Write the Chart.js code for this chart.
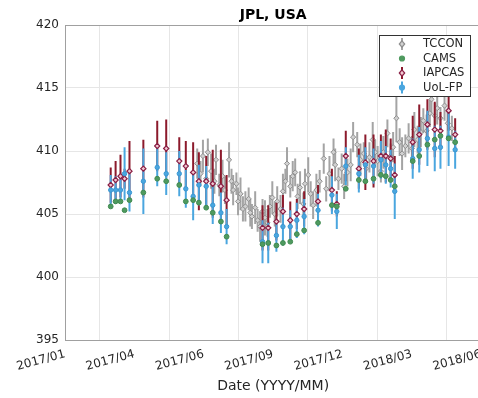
<!DOCTYPE html>
<html>
<head>
<meta charset="utf-8">
<script src="https://cdn.jsdelivr.net/npm/chart.js@4.4.1/dist/chart.umd.min.js"></script>
<style>
body{margin:0;background:#fff}
#wrap{width:478px;height:398px;overflow:hidden;position:relative}
</style>
</head>
<body>
<div id="wrap"><canvas id="c" width="492" height="398"></canvas></div>
<script>
// x = days after the 2017/01 tick, ticks are 85 days apart
const tickLabels=['2017/01','2017/04','2017/06','2017/09','2017/12','2018/03','2018/06']
const tickStep=85

const tcconDays=[162,166,169,173,175,179,183,185,189,193,196,201,204,206,210,212,215,218,221,225,
227,229,233,236,239,242,245,248,251,254,257,260,264,267,270,272,276,279,282,285,
288,292,294,298,301,304,308,312,317,320,324,329,331,335,339,342,346,350,353,358,
362,366,369,373,377,380,383,387,390,395,399,402,406,410,413,417,421,425,428,432,
436,439,443,447,449,453,456,460,465,469,474]
const tcconVals=[409.0,408.2,409.6,407.8,409.9,408.4,407.6,409.3,407.3,408.0,406.9,409.3,407.6,406.9,407.4,406.0,406.6,405.4,405.6,406.2,
405.1,404.8,405.5,404.5,404.0,405.2,404.7,404.3,405.6,406.3,405.0,406.0,405.4,406.8,407.6,409.0,407.2,408.0,408.3,406.4,
407.1,405.8,407.4,408.1,406.6,405.7,406.9,407.6,409.4,407.0,408.2,409.9,408.9,407.8,408.6,407.2,408.3,408.9,411.1,410.5,
409.3,409.8,408.6,409.5,410.9,409.9,409.2,408.4,409.9,411.4,409.6,410.3,412.6,410.7,409.8,410.4,411.0,410.2,411.7,410.9,
411.5,412.4,411.6,413.0,414.1,412.8,413.4,412.6,413.6,412.2,411.8]
const tcconErr=[1.2,1.0,1.3,0.9,1.1,1.4,1.0,1.2,0.9,1.3,1.1,1.4,1.0,1.2,0.9,1.1,1.3,1.0,1.2,0.9,
1.1,1.0,1.3,0.9,1.2,1.0,1.4,1.1,0.9,1.3,1.0,1.2,1.1,1.4,1.0,1.3,0.9,1.2,1.1,1.0,
1.3,0.9,1.2,1.4,1.0,1.1,1.3,0.9,1.2,1.0,1.4,1.1,1.3,0.9,1.2,1.0,1.1,1.3,1.2,1.0,
1.3,0.9,1.1,1.2,1.4,1.0,1.2,0.9,1.3,1.1,1.0,1.2,1.9,1.1,1.3,0.9,1.2,1.0,1.4,1.1,
1.2,1.0,1.3,1.1,1.2,1.0,1.3,0.9,1.2,1.1,1.0]

// satellite overpass days shared by CAMS, IAPCAS and UoL-FP
const satDays=[56,62,68,73,79,96,113,124,140,148,157,164,173,181,191,198,242,249,259,267,
276,284,293,310,327,333,344,360,368,378,387,393,399,404,426,434,444,453,460,470,478]
const camsVals=[405.6,406.0,406.0,405.3,406.1,406.7,407.8,407.6,407.3,406.0,406.1,405.9,405.5,405.1,404.4,403.2,402.6,402.7,402.5,402.7,
402.8,403.4,403.7,404.3,405.7,405.6,407.0,407.7,407.6,407.8,408.1,408.0,407.7,407.2,409.2,409.6,410.5,410.9,411.2,411.0,410.7]
const iapcasVals=[407.3,407.7,408.0,407.8,408.4,408.6,410.4,410.2,409.2,408.8,408.3,407.6,407.6,407.4,407.2,406.1,403.9,403.9,404.4,405.2,
404.5,405.0,405.4,406.0,406.9,405.8,409.6,408.6,409.1,409.2,409.6,409.6,409.4,408.1,410.7,411.3,412.1,411.7,411.6,413.2,411.3]
const iapcasErr=[1.4,1.5,1.7,0.8,2.4,2.3,2.0,2.3,1.9,2.0,2.4,2.3,2.0,2.7,2.9,2.0,1.8,1.8,1.5,1.3,
1.5,1.2,1.4,1.3,1.7,1.0,2.0,1.6,2.2,2.1,1.7,2.1,1.6,1.5,2.1,2.4,2.0,2.2,1.5,1.6,1.3]
const uolVals=[406.9,406.9,406.9,408.2,406.7,407.6,408.7,408.2,408.2,407.0,406.4,407.3,407.2,405.7,405.1,404.0,402.8,402.7,403.3,404.0,
404.0,404.5,404.8,405.3,406.5,405.2,408.8,408.2,408.9,408.8,409.3,408.9,408.6,406.8,409.4,410.1,411.0,410.2,410.3,411.1,410.1]
const uolErr=[1.2,1.1,1.0,2.1,1.5,2.6,1.5,1.7,1.8,1.5,1.9,1.6,1.6,1.5,1.6,1.4,1.7,1.6,1.3,1.5,
1.3,1.4,1.4,1.3,1.5,1.4,1.5,1.5,1.4,1.4,1.5,1.5,1.5,2.2,1.6,1.8,2.2,1.8,1.7,2.3,1.5]

const yTicks=[395,400,405,410,415,420]

const gray='#a4a4a4', red='#8c1a2c', blue='#4aa6df', green='#4f9a5f'

function pts(days,vals){
  return days.map((d,i)=>({x:d,y:vals[i]}))
}
function bars(days,vals,err){
  return days.map((d,i)=>({x:d,y:[vals[i]-err[i],vals[i]+err[i]]}))
}

const framePlugin={
  id:'frame',
  afterDraw(chart){
    const {ctx,chartArea:a}=chart
    ctx.save()
    ctx.strokeStyle='#a0a0a0'
    ctx.lineWidth=1
    ctx.beginPath()
    ctx.moveTo(a.left,a.top+0.5);ctx.lineTo(a.right,a.top+0.5)
    ctx.moveTo(a.right-0.5,a.top);ctx.lineTo(a.right-0.5,a.bottom)
    ctx.stroke()

    // title
    ctx.fillStyle='#000'
    ctx.font='bold 14px "DejaVu Sans"'
    ctx.textAlign='center'
    ctx.textBaseline='middle'
    ctx.fillText('JPL, USA',(a.left+a.right)/2,15)

    // legend
    const bx=379, by=a.top+10, bw=91, bh=61
    ctx.fillStyle='#fff'
    ctx.fillRect(bx,by,bw,bh)
    ctx.strokeStyle='#333'
    ctx.strokeRect(bx+0.5,by+0.5,bw,bh)
    const items=[['TCCON',gray,'#d2d2d2','d',true],['CAMS',green,green,'c',false],
                 ['IAPCAS',red,'#f2c9d2','d',true],['UoL-FP',blue,blue,'c',true]]
    ctx.font='11.5px "DejaVu Sans"'
    ctx.textAlign='left'
    items.forEach((it,i)=>{
      const y=by+9+i*14.5, x=bx+23
      if(it[4]){
        ctx.strokeStyle=it[1];ctx.lineWidth=2
        ctx.beginPath();ctx.moveTo(x,y-6);ctx.lineTo(x,y+6);ctx.stroke()
      }
      ctx.fillStyle=it[2];ctx.strokeStyle=it[0]=='IAPCAS'?'#8a1f45':(it[0]=='TCCON'?'#8e8e8e':it[1]);ctx.lineWidth=1.2
      ctx.beginPath()
      if(it[3]=='d'){ctx.moveTo(x,y-3.2);ctx.lineTo(x+2.7,y);ctx.lineTo(x,y+3.2);ctx.lineTo(x-2.7,y);ctx.closePath()}
      else ctx.arc(x,y,2.5,0,Math.PI*2)
      ctx.fill();ctx.stroke()
      ctx.fillStyle='#262626'
      ctx.fillText(it[0],bx+44,y+0.5)
    })
    ctx.restore()
  }
}

const barOpts={type:'bar',grouped:false,barThickness:2,borderWidth:0,inflateAmount:0}

new Chart(document.getElementById('c'),{
  type:'scatter',
  data:{datasets:[
    {label:'CAMS',data:pts(satDays,camsVals),pointStyle:'circle',pointRadius:2.4,backgroundColor:green,borderColor:'#3f8a50',borderWidth:1,order:1},
    {label:'UoL-FP',data:pts(satDays,uolVals),pointStyle:'circle',pointRadius:2.2,backgroundColor:blue,borderColor:'#3b97d2',borderWidth:1,order:2},
    {label:'IAPCAS',data:pts(satDays,iapcasVals),pointStyle:'rectRot',pointRadius:2.6,backgroundColor:'#f2c9d2',borderColor:'#8a1f45',borderWidth:1.2,order:3},
    Object.assign({label:'UoL-FP err',data:bars(satDays,uolVals,uolErr),backgroundColor:blue,order:4},barOpts),
    Object.assign({label:'IAPCAS err',data:bars(satDays,iapcasVals,iapcasErr),backgroundColor:red,order:5},barOpts),
    {label:'TCCON',data:pts(tcconDays,tcconVals),pointStyle:'rectRot',pointRadius:2.6,backgroundColor:'#d0d0d0',borderColor:'#8e8e8e',borderWidth:1,order:6},
    Object.assign({label:'TCCON err',data:bars(tcconDays,tcconVals,tcconErr),backgroundColor:gray,order:7},barOpts)
  ]},
  options:{
    responsive:false,
    animation:false,
    layout:{padding:{top:25,right:0,left:0,bottom:0}},
    plugins:{legend:{display:false},tooltip:{enabled:false},title:{display:false}},
    scales:{
      x:{type:'linear',min:0,max:tickStep*(tickLabels.length-1),offset:false,
        afterFit(s){s.height=58},
        grid:{color:'#e6e6e6',drawTicks:false},
        border:{color:'#a0a0a0'},
        ticks:{stepSize:tickStep,autoSkip:false,maxRotation:15,minRotation:15,padding:7,color:'#262626',
          font:{family:'DejaVu Sans',size:12},
          callback:(v)=>tickLabels[Math.round(v/tickStep)]},
        title:{display:true,text:'Date (YYYY/MM)',color:'#262626',font:{family:'DejaVu Sans',size:14},padding:{top:0,bottom:3}}
      },
      y:{type:'linear',min:yTicks[0],max:yTicks[yTicks.length-1],
        afterFit(s){s.width=65},
        afterBuildTicks(s){s.ticks=yTicks.map(v=>({value:v}))},
        grid:{color:'#e6e6e6',drawTicks:false},
        border:{color:'#a0a0a0'},
        ticks:{padding:6,color:'#262626',font:{family:'DejaVu Sans',size:12}}
      }
    }
  },
  plugins:[framePlugin]
})
</script>
</body>
</html>
